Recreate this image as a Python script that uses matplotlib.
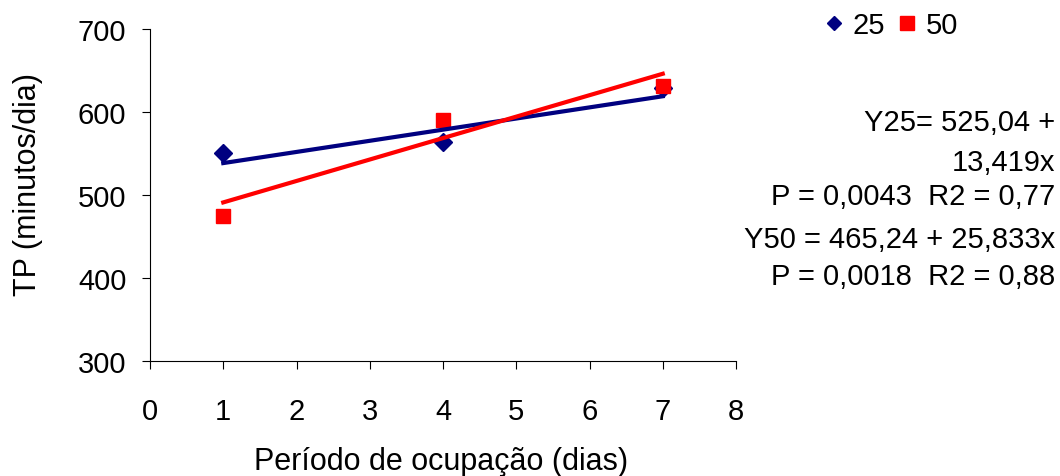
import numpy as np
import matplotlib
matplotlib.use("Agg")
import matplotlib.pyplot as plt
from matplotlib.lines import Line2D

plt.rcParams['font.family'] = ['Liberation Sans', 'DejaVu Sans']

# data
dias = [1, 4, 7]
tp25 = [550, 564, 629]
tp50 = [475, 590, 631]

# trend line coefficients (from the equations on the chart)
a25, b25 = 525.04, 13.419
a50, b50 = 465.24, 25.833
x_fit = np.array([1, 7])

eq_lines = [
    "Y25= 525,04 +",
    "13,419x",
    "P = 0,0043  R2 = 0,77",
    "Y50 = 465,24 + 25,833x",
    "P = 0,0018  R2 = 0,88",
]

W, H = 1060, 477
fig = plt.figure(figsize=(W / 100, H / 100), dpi=100)
ax = fig.add_axes([150 / W, 1 - 362 / H, (736 - 150) / W, (362 - 30) / H])

c25 = '#000080'
c50 = '#ff0000'
ax.plot(dias, tp25, 'D', color=c25, markersize=9, zorder=3)
ax.plot(dias, tp50, 's', color=c50, markersize=10, zorder=3)
ax.plot(x_fit, a25 + b25 * x_fit, color=c25, lw=3, zorder=4)
ax.plot(x_fit, a50 + b50 * x_fit, color=c50, lw=3, zorder=5)

ax.set_xlim(0, 8)
ax.set_ylim(300, 700)
ax.set_xticks(range(0, 9))
ax.set_yticks(range(300, 701, 100))
for s in ['top', 'right']:
    ax.spines[s].set_visible(False)
ax.tick_params(axis='x', direction='out', length=6, pad=20, labelsize=21)
ax.tick_params(axis='y', direction='out', length=6, pad=11, labelsize=21)

# axis titles placed in figure pixels
fig.text(441 / W, 1 - 462 / H, 'Período de ocupação (dias)',
         ha='center', va='center', fontsize=22)
fig.text(28 / W, 1 - 185 / H, 'TP (minutos/dia)', rotation=90,
         ha='center', va='center', fontsize=22)

handles = [Line2D([], [], marker='D', color=c25, ls='none', markersize=7.5),
           Line2D([], [], marker='s', color=c50, ls='none', markersize=10)]
fig.legend(handles, ['25', '50'], ncol=2, frameon=False, fontsize=21,
           loc='center', bbox_to_anchor=(891 / W, 1 - 26 / H),
           handlelength=0.7, handletextpad=0.3, columnspacing=0.4)

ys = [123, 163, 197, 240, 277]
for txt, y in zip(eq_lines, ys):
    fig.text(1055 / W, 1 - y / H, txt, ha='right', va='center', fontsize=21)

fig.savefig('out.png', dpi=100)
